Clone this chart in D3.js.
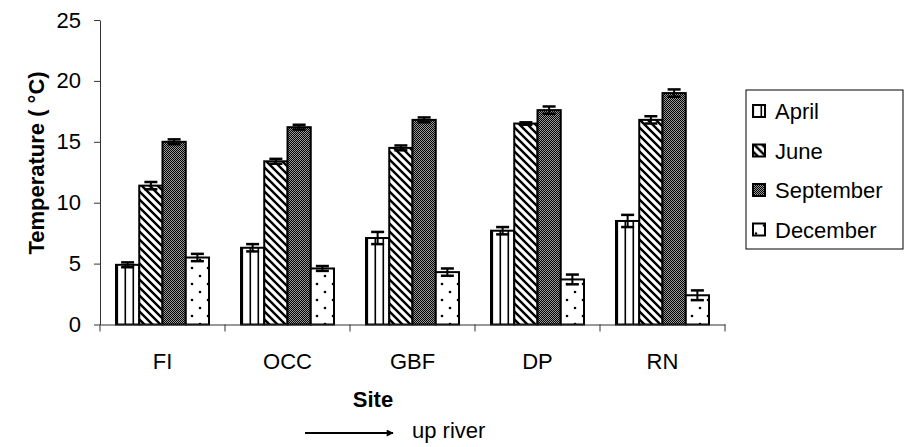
<!DOCTYPE html>
<html>
<head>
<meta charset="utf-8">
<script src="https://cdn.jsdelivr.net/npm/d3@7"></script>
<style>
  html, body { margin: 0; padding: 0; background: #fff; }
  svg { display: block; }
  text { font-family: Arial, "Liberation Sans", Helvetica, sans-serif; fill: #000; }
</style>
</head>
<body>
<svg id="chart" width="906" height="447"></svg>
<script>
// Water temperature by site and month
const sites = ["FI", "OCC", "GBF", "DP", "RN"];
const months = ["April", "June", "September", "December"];
const april     = [4.9, 6.3, 7.1, 7.7, 8.5];
const june      = [11.4, 13.4, 14.5, 16.5, 16.8];
const september = [15.0, 16.2, 16.8, 17.6, 19.0];
const december  = [5.5, 4.6, 4.3, 3.7, 2.4];
const aprilErr     = [0.2, 0.3, 0.5, 0.3, 0.5];
const juneErr      = [0.3, 0.2, 0.2, 0.1, 0.3];
const septemberErr = [0.2, 0.2, 0.2, 0.3, 0.3];
const decemberErr  = [0.3, 0.2, 0.3, 0.4, 0.4];
const yTicks = [0, 5, 10, 15, 20, 25];

const seriesValues = [april, june, september, december];
const seriesErrors = [aprilErr, juneErr, septemberErr, decemberErr];

const rows = [];
sites.forEach((s, i) => months.forEach((m, j) => {
  rows.push({ site: s, month: m, value: seriesValues[j][i], err: seriesErrors[j][i] });
}));

const svg = d3.select("#chart");
const defs = svg.append("defs");

// Fill patterns, one per month
const pApr = defs.append("pattern").attr("id", "pat-April")
  .attr("patternUnits", "userSpaceOnUse").attr("width", 8).attr("height", 8);
pApr.append("rect").attr("width", 8).attr("height", 8).attr("fill", "#fff");
pApr.append("rect").attr("x", 0.5).attr("width", 1.6).attr("height", 8).attr("fill", "#000");

const pJun = defs.append("pattern").attr("id", "pat-June")
  .attr("patternUnits", "userSpaceOnUse").attr("width", 8).attr("height", 8);
pJun.append("rect").attr("width", 8).attr("height", 8).attr("fill", "#fff");
pJun.append("path").attr("d", "M-2,-2L10,10M-2,6L2,10M6,-2L10,2")
  .attr("stroke", "#000").attr("stroke-width", 2.4);

const pSep = defs.append("pattern").attr("id", "pat-September")
  .attr("patternUnits", "userSpaceOnUse").attr("width", 2).attr("height", 2);
pSep.append("rect").attr("width", 2).attr("height", 2).attr("fill", "#9a9a9a");
pSep.append("rect").attr("x", 0).attr("y", 0).attr("width", 1).attr("height", 1).attr("fill", "#000");
pSep.append("rect").attr("x", 1).attr("y", 1).attr("width", 1).attr("height", 1).attr("fill", "#000");

const pDec = defs.append("pattern").attr("id", "pat-December")
  .attr("patternUnits", "userSpaceOnUse").attr("width", 16).attr("height", 16);
pDec.append("rect").attr("width", 16).attr("height", 16).attr("fill", "#fff");
pDec.append("circle").attr("cx", 4).attr("cy", 4).attr("r", 1.3).attr("fill", "#000");
pDec.append("circle").attr("cx", 12).attr("cy", 12).attr("r", 1.3).attr("fill", "#000");

// Scales
const x0 = d3.scaleBand().domain(sites).range([100, 725])
  .paddingInner(0.256).paddingOuter(0.128);
const x1 = d3.scaleBand().domain(months).range([0, x0.bandwidth()]).padding(0);
const y = d3.scaleLinear().domain([0, 25]).range([324.5, 20]);

// Bars
const groups = svg.append("g").selectAll("g").data(sites).join("g")
  .attr("transform", d => `translate(${x0(d)},0)`);

groups.selectAll("rect").data(s => rows.filter(r => r.site === s)).join("rect")
  .attr("x", d => x1(d.month))
  .attr("y", d => y(d.value))
  .attr("width", x1.bandwidth())
  .attr("height", d => y(0) - y(d.value))
  .attr("fill", d => `url(#pat-${d.month})`)
  .attr("stroke", "#000")
  .attr("stroke-width", 2);

// Error bars
const eb = groups.selectAll("g.err").data(s => rows.filter(r => r.site === s)).join("g")
  .attr("class", "err")
  .attr("transform", d => `translate(${x1(d.month) + x1.bandwidth() / 2},0)`);
eb.append("line")
  .attr("y1", d => y(d.value + d.err)).attr("y2", d => y(d.value - d.err))
  .attr("stroke", "#000").attr("stroke-width", 2);
eb.append("line")
  .attr("x1", -6.5).attr("x2", 6.5)
  .attr("y1", d => y(d.value + d.err)).attr("y2", d => y(d.value + d.err))
  .attr("stroke", "#000").attr("stroke-width", 2.5);
eb.append("line")
  .attr("x1", -6.5).attr("x2", 6.5)
  .attr("y1", d => y(d.value - d.err)).attr("y2", d => y(d.value - d.err))
  .attr("stroke", "#000").attr("stroke-width", 2.5);

// Y axis
const yAxis = svg.append("g").attr("transform", "translate(100,0)")
  .call(d3.axisLeft(y).tickValues(yTicks).tickSize(6).tickPadding(13).tickSizeOuter(0));
yAxis.select(".domain").attr("stroke", "#333").attr("stroke-width", 1);
yAxis.selectAll(".tick line").attr("stroke", "#333");
yAxis.selectAll(".tick text").attr("font-size", 22).attr("font-family", "Arial, 'Liberation Sans', sans-serif");

// X axis: labels centred on each site, ticks at group boundaries
const xAxis = svg.append("g").attr("transform", `translate(0,${y(0)})`)
  .call(d3.axisBottom(x0).tickSize(0).tickPadding(29).tickSizeOuter(0));
xAxis.select(".domain").attr("stroke", "#333").attr("stroke-width", 1);
xAxis.selectAll(".tick text").attr("font-size", 22).attr("font-family", "Arial, 'Liberation Sans', sans-serif");
const bounds = d3.range(sites.length + 1).map(i => x0.range()[0] + i * x0.step());
xAxis.selectAll("line.bound").data(bounds).join("line")
  .attr("class", "bound")
  .attr("x1", d => d).attr("x2", d => d)
  .attr("y1", 0).attr("y2", 7)
  .attr("stroke", "#333").attr("stroke-width", 1);

// Axis titles
svg.append("text")
  .attr("transform", "translate(44,163) rotate(-90)")
  .attr("text-anchor", "middle")
  .attr("font-size", 22).attr("font-weight", "bold")
  .text("Temperature ( °C)");

svg.append("text")
  .attr("x", 373).attr("y", 407)
  .attr("text-anchor", "middle")
  .attr("font-size", 22).attr("font-weight", "bold")
  .text("Site");

// Direction arrow
defs.append("marker").attr("id", "arrowhead")
  .attr("viewBox", "0 0 10 10").attr("refX", 9).attr("refY", 5)
  .attr("markerWidth", 9).attr("markerHeight", 7).attr("orient", "auto")
  .attr("markerUnits", "userSpaceOnUse")
  .append("path").attr("d", "M0,0L10,5L0,10Z").attr("fill", "#000");
svg.append("line")
  .attr("x1", 305).attr("x2", 393).attr("y1", 433).attr("y2", 433)
  .attr("stroke", "#000").attr("stroke-width", 2)
  .attr("marker-end", "url(#arrowhead)");
svg.append("text")
  .attr("x", 412).attr("y", 438)
  .attr("font-size", 22)
  .text("up river");

// Legend
const legend = svg.append("g");
legend.append("rect")
  .attr("x", 746).attr("y", 90).attr("width", 157).attr("height", 159)
  .attr("fill", "#fff").attr("stroke", "#000").attr("stroke-width", 1);
const legendY = d3.scalePoint().domain(months).range([111, 229.5]);
const items = legend.selectAll("g.item").data(months).join("g")
  .attr("class", "item")
  .attr("transform", d => `translate(0,${legendY(d)})`);
items.append("rect")
  .attr("x", 753).attr("y", -6).attr("width", 12).attr("height", 12)
  .attr("fill", d => `url(#pat-${d})`)
  .attr("stroke", "#000").attr("stroke-width", 2);
items.append("text")
  .attr("x", 775).attr("y", 8)
  .attr("font-size", 22)
  .text(d => d);
</script>
</body>
</html>
